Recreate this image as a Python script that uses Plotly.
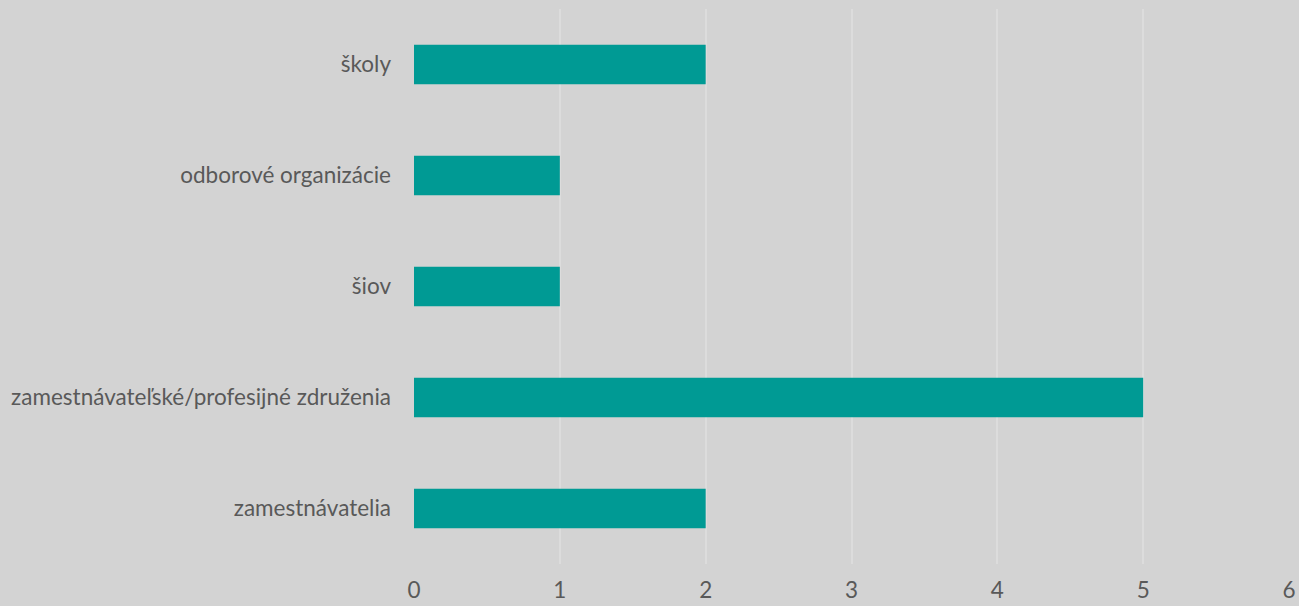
import plotly.graph_objects as go

categories = ["zamestnávatelia", "zamestnávateľské/profesijné združenia", "šiov", "odborové organizácie", "školy"]
values = [2, 5, 1, 1, 2]
x_ticks = [0, 1, 2, 3, 4, 5, 6]

fig = go.Figure(go.Bar(
    x=values, y=categories, orientation="h",
    marker=dict(color="#009a94", line=dict(width=0)),
    width=0.355,
    cliponaxis=False,
))

fig.update_layout(
    width=1299, height=606,
    paper_bgcolor="#d3d3d3", plot_bgcolor="#d3d3d3",
    margin=dict(l=414, r=10, t=9, b=42),
    font=dict(family="Lato", size=22.5, color="#595959"),
    showlegend=False,
)
fig.update_xaxes(
    range=[0, 6], tickvals=x_ticks, showgrid=True, gridcolor="#dcdcdc", gridwidth=1.5,
    zeroline=False, showline=False, ticks="", ticklabelstandoff=10, automargin=False,
)
fig.update_yaxes(
    categoryorder="array", categoryarray=categories, showgrid=False,
    zeroline=False, showline=False, ticks="", ticklabelstandoff=22, automargin=False,
)
fig.write_html(
    "out.html",
    config={"displayModeBar": False},
    post_script="document.body.style.margin='0';document.body.style.background='#d3d3d3';",
)
